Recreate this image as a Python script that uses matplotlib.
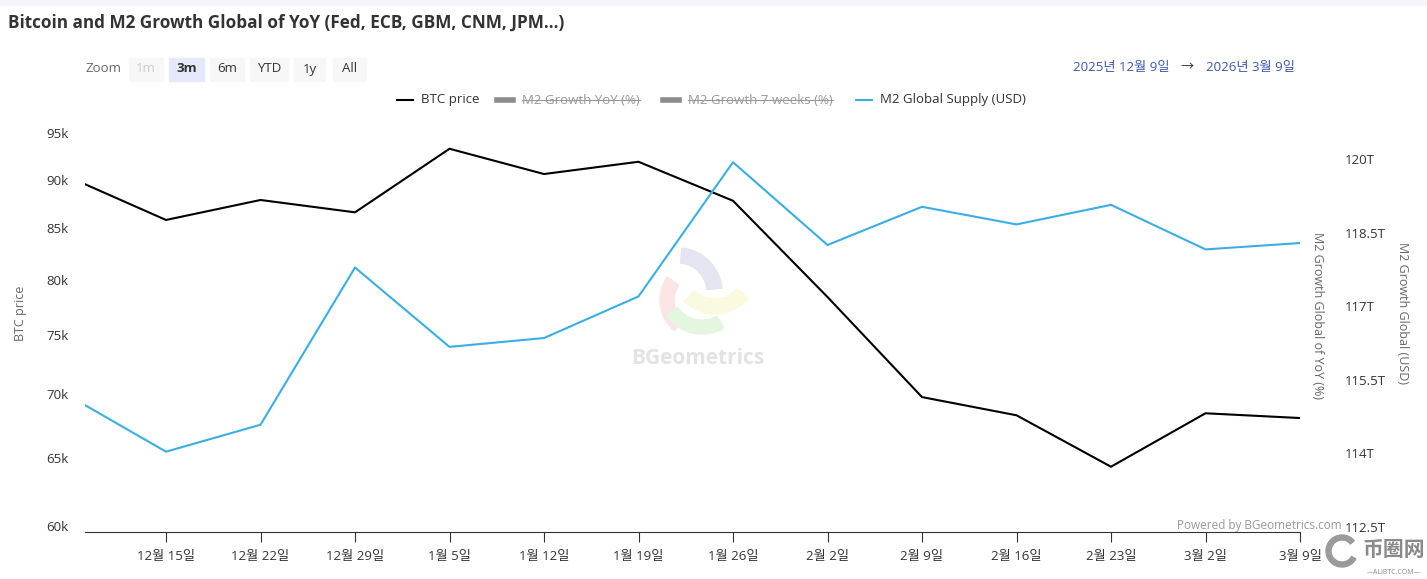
import datetime as dt
import matplotlib
matplotlib.use('Agg')
import matplotlib.pyplot as plt
from matplotlib.patches import Wedge, Rectangle
from matplotlib.lines import Line2D

plt.rcParams['font.family'] = ['Open Sans', 'Noto Sans CJK KR', 'DejaVu Sans']

# weekly data
dates = ['2025-12-09', '2025-12-15', '2025-12-22', '2025-12-29', '2026-01-05', '2026-01-12', '2026-01-19',
         '2026-01-26', '2026-02-02', '2026-02-09', '2026-02-16', '2026-02-23', '2026-03-02', '2026-03-09']
btc_price = [89510, 85840, 87870, 86610, 93300, 90580, 91890, 87790, 78440, 69770, 68300, 64310, 68460, 68080]
m2_supply = [114.98, 114.03, 114.58, 117.79, 116.17, 116.35, 117.20, 119.94, 118.25, 119.03, 118.67, 119.07,
             118.16, 118.29]

tick_dates = ['2025-12-15', '2025-12-22', '2025-12-29', '2026-01-05', '2026-01-12', '2026-01-19', '2026-01-26',
              '2026-02-02', '2026-02-09', '2026-02-16', '2026-02-23', '2026-03-02', '2026-03-09']
tick_labels = ['12월 15일', '12월 22일', '12월 29일', '1월 5일', '1월 12일', '1월 19일', '1월 26일',
               '2월 2일', '2월 9일', '2월 16일', '2월 23일', '3월 2일', '3월 9일']
btc_ticks = [60000, 65000, 70000, 75000, 80000, 85000, 90000, 95000]
btc_tick_labels = ['60k', '65k', '70k', '75k', '80k', '85k', '90k', '95k']
m2_ticks = [112.5, 114, 115.5, 117, 118.5, 120]
m2_tick_labels = ['112.5T', '114T', '115.5T', '117T', '118.5T', '120T']

legend_names = ['BTC price', 'M2 Growth YoY (%)', 'M2 Growth 7 weeks (%)', 'M2 Global Supply (USD)']
zoom_buttons = ['1m', '3m', '6m', 'YTD', '1y', 'All']

W, H = 1427, 579
BLACK = '#000000'
BLUE = '#3aaee6'


def to_date(s):
    return dt.datetime.strptime(s, '%Y-%m-%d')


def px(x, y):
    return x / W, 1 - y / H


x = [to_date(d) for d in dates]

fig = plt.figure(figsize=(W / 100, H / 100), dpi=100)
fig.patch.set_facecolor('white')
fig.patches.append(Rectangle((0, 1 - 5 / H), 1, 5 / H, transform=fig.transFigure, color='#f4f6fa', zorder=0))

ax = fig.add_axes([85 / W, 47 / H, 1215 / W, 407 / H])
ax.set_yscale('log')
ax.plot(x, btc_price, color=BLACK, lw=1.5, zorder=3)
ax.set_ylim(59580, 95930)
ax.set_yticks(btc_ticks)
ax.set_yticklabels(btc_tick_labels)
ax.yaxis.set_minor_locator(plt.NullLocator())
ax.yaxis.set_minor_formatter(plt.NullFormatter())
ax.set_xlim(to_date(dates[0]), to_date(dates[-1]))
ax.set_xticks([to_date(d) for d in tick_dates])
ax.set_xticklabels(tick_labels)
ax.tick_params(axis='x', direction='out', length=7, width=0.8, color='#333333', labelsize=9.5,
               labelcolor='#333333', pad=6)
ax.tick_params(axis='y', length=0, pad=12, labelsize=9.5, labelcolor='#333333')
for s in ['top', 'left', 'right']:
    ax.spines[s].set_visible(False)
ax.spines['bottom'].set_color('#333333')
ax.spines['bottom'].set_linewidth(0.8)
ax.set_ylabel('BTC price', color='#666666', fontsize=9)
ax.yaxis.set_label_coords((27 - 85) / 1215, (532 - 313) / 407)

ax2 = ax.twinx()
ax2.plot(x, m2_supply, color=BLUE, lw=1.5, zorder=3)
ax2.set_ylim(112.39, 120.70)
ax2.set_yticks(m2_ticks)
ax2.set_yticklabels(m2_tick_labels)
ax2.tick_params(axis='y', length=0, pad=32, labelsize=9.5, labelcolor='#333333')
for s in ax2.spines.values():
    s.set_visible(False)
ax2.set_ylabel('M2 Growth Global (USD)', color='#666666', fontsize=9, rotation=270)
ax2.yaxis.set_label_coords((1409 - 85) / 1215, (532 - 313) / 407)

fig.text(*px(1318, 315), 'M2 Growth Global of YoY (%)', color='#666666', fontsize=9, rotation=270,
         ha='center', va='center')

# watermark
wm = fig.dpi_scale_trans
for cx, cy, r, w, a1, a2, col in [(678, 292, 44, 15, 5, 85, '#e4e5f0'),
                                  (700, 300, 40, 14, 145, 230, '#fbe4e4'),
                                  (715, 270, 44, 15, 225, 320, '#fafae0'),
                                  (702, 290, 44, 14, 215, 300, '#e4f6df')]:
    fig.patches.append(Wedge(((cx) / 100, (H - cy) / 100), r / 100, a1, a2, width=w / 100,
                             transform=wm, color=col, zorder=1))
fig.text(*px(698, 358), 'BGeometrics', color='#e3e3e3', fontsize=15, fontweight='bold',
         ha='center', va='center', zorder=1)

# title
fig.text(*px(8, 23), 'Bitcoin and M2 Growth Global of YoY (Fed, ECB, GBM, CNM, JPM...)', fontsize=12.3,
         fontweight='bold', color='#333333', ha='left', va='center')

# range selector
fig.text(*px(85, 69), 'Zoom', fontsize=9.5, color='#666666', ha='left', va='center')
btn_x = [129, 169, 210, 250, 294, 333]
btn_w = [34, 35, 34, 38, 31, 33]
for name, bx, bw in zip(zoom_buttons, btn_x, btn_w):
    bg = '#e6e9fb' if name == '3m' else '#f7f7f7'
    fc = '#cccccc' if name == '1m' else '#333333'
    fig.patches.append(Rectangle((bx / W, 1 - 81 / H), bw / W, 23 / H, transform=fig.transFigure,
                                 color=bg, zorder=1))
    fig.text(*px(bx + bw / 2, 69), name, fontsize=9.5, color=fc, ha='center', va='center',
             fontweight='bold' if name == '3m' else 'normal')

fig.text(*px(1121, 68), '2025년 12월 9일', fontsize=9.5, color='#3d57b0', ha='center', va='center')
fig.text(*px(1187, 68), '→', fontsize=9.5, color='#333333', ha='center', va='center')
fig.text(*px(1250, 68), '2026년 3월 9일', fontsize=9.5, color='#3d57b0', ha='center', va='center')

# legend
sym_x = [397, 497, 663, 856]
txt_x = [421, 522, 688, 880]
sym_col = [BLACK, '#8c8c8c', '#8c8c8c', BLUE]
sym_lw = [1.5, 4, 4, 1.5]
hidden = [False, True, True, False]
fig.canvas.draw()
renderer = fig.canvas.get_renderer()
for name, sx, tx, c, lw, hid in zip(legend_names, sym_x, txt_x, sym_col, sym_lw, hidden):
    x0, y0 = px(sx, 100)
    x1, _ = px(sx + 16, 100)
    fig.add_artist(Line2D([x0, x1], [y0, y0], color=c, lw=lw, transform=fig.transFigure))
    t = fig.text(*px(tx, 100), name, fontsize=9.5, color='#999999' if hid else '#333333',
                 ha='left', va='center')
    if hid:
        bb = t.get_window_extent(renderer)
        fig.add_artist(Line2D([bb.x0 / W, bb.x1 / W], [y0, y0], color='#999999', lw=0.8,
                              transform=fig.transFigure))

fig.text(*px(1342, 525), 'Powered by BGeometrics.com', fontsize=8.5, color='#999999', ha='right', va='center')

# corner watermark
fig.patches.append(Wedge((1342 / 100, (H - 551) / 100), 16 / 100, 40, 330, width=5 / 100,
                         transform=wm, color='#9a9a9a', zorder=2))
fig.text(*px(1394, 550), '币圈网', family=['Noto Sans CJK SC'], fontsize=15, fontweight='bold',
         color='#8a8a8a', ha='center', va='center')
fig.text(*px(1394, 573), '—ALIBTC.COM—', fontsize=5, color='#8a8a8a', ha='center', va='center')

fig.savefig('out.png', dpi=100)
